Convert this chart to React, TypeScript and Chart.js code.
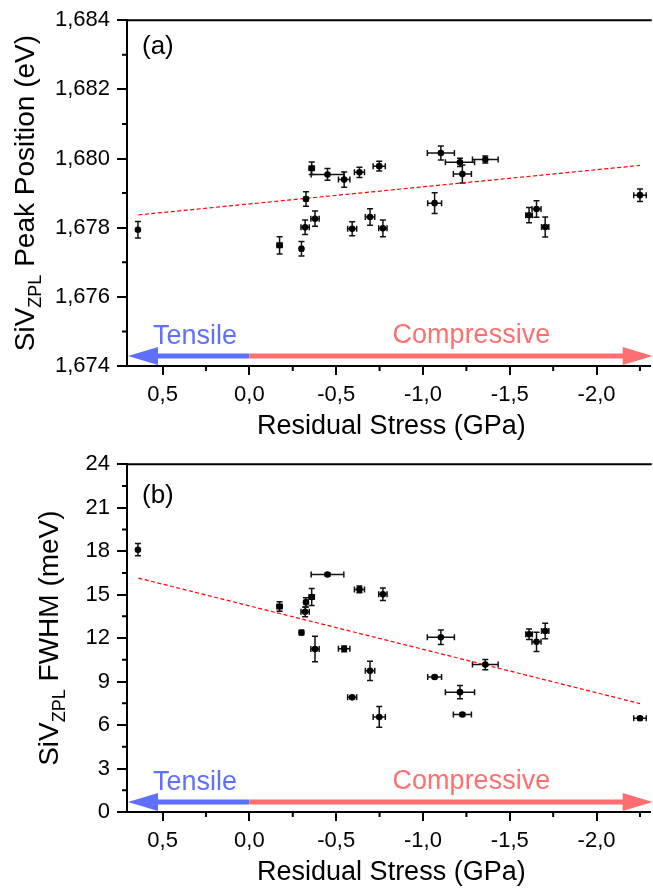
import React, { useEffect, useRef } from 'react';
import { Chart, registerables } from 'chart.js';
Chart.register(...registerables);

// ---------- data ----------
const stress = [0.642, -0.174, -0.3, -0.321, -0.326, -0.359, -0.378, -0.45, -0.546, -0.592, -0.634, -0.695, -0.748, -0.769, -1.067, -1.103, -1.213, -1.227, -1.359, -1.611, -1.654, -1.704, -2.25];
const stressErr = [0, 0.015, 0.01, 0.024, 0.01, 0.015, 0.024, 0.094, 0.033, 0.026, 0.029, 0.027, 0.035, 0.024, 0.04, 0.078, 0.084, 0.052, 0.074, 0.019, 0.026, 0.021, 0.036];
const peakPos = [1.67794, 1.67749, 1.67739, 1.67801, 1.67883, 1.67972, 1.67826, 1.67954, 1.67939, 1.67797, 1.6796, 1.67831, 1.67978, 1.67798, 1.67871, 1.68016, 1.67989, 1.67955, 1.67997, 1.67836, 1.67854, 1.67802, 1.67894];
const peakPosErr = [0.00024, 0.00025, 0.00021, 0.00021, 0.00021, 0.00018, 0.00022, 0.00017, 0.00022, 0.0002, 0.00015, 0.00024, 0.00014, 0.00024, 0.0003, 0.0002, 0.00012, 0.00026, 0.0001, 0.00022, 0.00024, 0.00029, 0.00018];
const fwhm = [18.1, 14.18, 12.38, 13.81, 14.47, 14.84, 11.24, 16.39, 11.26, 7.91, 15.36, 9.74, 6.56, 15.02, 9.32, 12.06, 8.27, 6.73, 10.17, 12.27, 11.74, 12.49, 6.47];
const fwhmErr = [0.42, 0.32, 0.15, 0.33, 0.32, 0.59, 0.88, 0.1, 0.2, 0.1, 0.23, 0.66, 0.72, 0.43, 0.1, 0.5, 0.46, 0.1, 0.36, 0.36, 0.66, 0.54, 0.1];

const fitStress = [0.639, -2.25];
const fitPeak = [1.67837, 1.6798];
const fitFwhm = [16.14, 7.48];

const xTicks = [-2, -1.5, -1, -0.5, 0, 0.5];
const xMinorTicks = [-2.25, -1.75, -1.25, -0.75, -0.25, 0.25];
const peakTicks = [1.674, 1.676, 1.678, 1.68, 1.682, 1.684];
const peakMinorTicks = [1.675, 1.677, 1.679, 1.681, 1.683];
const fwhmTicks = [0, 3, 6, 9, 12, 15, 18, 21, 24];
const fwhmMinorTicks = [1.5, 4.5, 7.5, 10.5, 13.5, 16.5, 19.5, 22.5];

const xTitle = 'Residual Stress (GPa)';
const tensileLabel = 'Tensile';
const compressiveLabel = 'Compressive';
// annotation anchor values (GPa): left edge of the labels and arrow split
const tensileAt = 0.555;
const compressiveAt = -0.825;
const arrowSplitAt = 0;

const FONT = '"Liberation Sans", Arial, sans-serif';
const BLUE = '#5f6fff';
const RED = '#ff6f6f';

type Spec = {
  ys: number[];
  yErr: number[];
  fit: number[];
  yMin: number;
  yMax: number;
  yTicks: number[];
  yMinor: number[];
  yFmt: (v: number) => string;
  panel: string;
  panelDy: number;
  yTitleRest: string;
  yTitleX: number;
  xAxisH: number;
  top: number;
};

const fmtX = (v: number) => (Math.abs(v) < 1e-9 ? '0,0' : v.toFixed(1).replace('.', ','));

function makePlugin(spec: Spec) {
  return {
    id: 'decor' + spec.panel,
    beforeDatasetsDraw(chart: any) {
      const { ctx } = chart;
      const xs = chart.scales.x;
      const ysc = chart.scales.y;
      ctx.save();
      ctx.strokeStyle = '#111';
      ctx.lineWidth = 1.5;
      const cap = 3;
      for (let i = 0; i < stress.length; i++) {
        const px = xs.getPixelForValue(stress[i]);
        const py = ysc.getPixelForValue(spec.ys[i]);
        if (spec.yErr[i] > 0) {
          const y1 = ysc.getPixelForValue(spec.ys[i] + spec.yErr[i]);
          const y2 = ysc.getPixelForValue(spec.ys[i] - spec.yErr[i]);
          ctx.beginPath();
          ctx.moveTo(px, y1); ctx.lineTo(px, y2);
          ctx.moveTo(px - cap, y1); ctx.lineTo(px + cap, y1);
          ctx.moveTo(px - cap, y2); ctx.lineTo(px + cap, y2);
          ctx.stroke();
        }
        if (stressErr[i] > 0) {
          const x1 = xs.getPixelForValue(stress[i] + stressErr[i]);
          const x2 = xs.getPixelForValue(stress[i] - stressErr[i]);
          ctx.beginPath();
          ctx.moveTo(x1, py); ctx.lineTo(x2, py);
          ctx.moveTo(x1, py - cap); ctx.lineTo(x1, py + cap);
          ctx.moveTo(x2, py - cap); ctx.lineTo(x2, py + cap);
          ctx.stroke();
        }
      }
      ctx.restore();
    },
    afterDraw(chart: any) {
      const { ctx, chartArea } = chart;
      const xs = chart.scales.x;
      const ysc = chart.scales.y;
      const { left, right, top, bottom } = chartArea;
      ctx.save();
      // top frame line
      ctx.strokeStyle = '#000';
      ctx.lineWidth = 2;
      ctx.beginPath();
      ctx.moveTo(left - 1, top);
      ctx.lineTo(right + 2, top);
      ctx.stroke();
      // minor ticks
      ctx.beginPath();
      for (const v of xMinorTicks) {
        const p = xs.getPixelForValue(v);
        ctx.moveTo(p, bottom);
        ctx.lineTo(p, bottom + 5);
      }
      for (const v of spec.yMinor) {
        const p = ysc.getPixelForValue(v);
        ctx.moveTo(left, p);
        ctx.lineTo(left - 5, p);
      }
      ctx.stroke();

      // arrows
      const ay = bottom - 10;
      const split = xs.getPixelForValue(arrowSplitAt);
      const headL = 30;
      const headH = 9;
      ctx.lineWidth = 5;
      ctx.strokeStyle = BLUE;
      ctx.fillStyle = BLUE;
      ctx.beginPath();
      ctx.moveTo(split, ay);
      ctx.lineTo(left + headL - 2, ay);
      ctx.stroke();
      ctx.beginPath();
      ctx.moveTo(left + 1, ay);
      ctx.lineTo(left + 1 + headL, ay - headH);
      ctx.lineTo(left + 1 + headL, ay + headH);
      ctx.closePath();
      ctx.fill();
      ctx.strokeStyle = RED;
      ctx.fillStyle = RED;
      ctx.beginPath();
      ctx.moveTo(split, ay);
      ctx.lineTo(right - headL + 4, ay);
      ctx.stroke();
      ctx.beginPath();
      ctx.moveTo(right + 3, ay);
      ctx.lineTo(right + 3 - headL, ay - headH);
      ctx.lineTo(right + 3 - headL, ay + headH);
      ctx.closePath();
      ctx.fill();

      // arrow labels
      ctx.font = `27px ${FONT}`;
      ctx.textAlign = 'left';
      ctx.textBaseline = 'alphabetic';
      ctx.fillStyle = BLUE;
      ctx.fillText(tensileLabel, xs.getPixelForValue(tensileAt), bottom - 22);
      ctx.fillStyle = RED;
      ctx.fillText(compressiveLabel, xs.getPixelForValue(compressiveAt), bottom - 23);

      // panel label
      ctx.fillStyle = '#000';
      ctx.font = `26px ${FONT}`;
      ctx.fillText(spec.panel, left + 15, top + spec.panelDy);

      // x title
      ctx.font = `27px ${FONT}`;
      ctx.textAlign = 'center';
      ctx.fillText(xTitle, (left + right) / 2 + 3, bottom + 68);

      // y title with subscript
      const big = `28px ${FONT}`;
      const small = `18px ${FONT}`;
      ctx.font = big;
      const w1 = ctx.measureText('SiV').width;
      const w3 = ctx.measureText(spec.yTitleRest).width;
      ctx.font = small;
      const w2 = ctx.measureText('ZPL').width;
      const total = w1 + w2 + w3;
      ctx.translate(spec.yTitleX, (top + bottom) / 2);
      ctx.rotate(-Math.PI / 2);
      ctx.textAlign = 'left';
      let x0 = -total / 2;
      ctx.font = big;
      ctx.fillText('SiV', x0, 0);
      ctx.font = small;
      ctx.fillText('ZPL', x0 + w1, 7);
      ctx.font = big;
      ctx.fillText(spec.yTitleRest, x0 + w1 + w2, 0);
      ctx.restore();
    },
  };
}

function buildChart(canvas: HTMLCanvasElement, spec: Spec) {
  return new Chart(canvas, {
    type: 'scatter',
    data: {
      datasets: [
        {
          data: stress.map((x, i) => ({ x, y: spec.ys[i] })),
          pointRadius: 3.3,
          pointHoverRadius: 3.3,
          backgroundColor: '#000',
          borderWidth: 0,
          pointStyle: 'circle',
        },
        {
          data: fitStress.map((x, i) => ({ x, y: spec.fit[i] })),
          showLine: true,
          pointRadius: 0,
          borderColor: '#ff0000',
          borderWidth: 1.2,
          borderDash: [4, 2.5],
        },
      ],
    },
    options: {
      responsive: false,
      animation: false,
      devicePixelRatio: 1,
      layout: { padding: { top: spec.top, left: 0, right: 0, bottom: 0 } },
      plugins: { legend: { display: false }, tooltip: { enabled: false } },
      events: [],
      scales: {
        x: {
          type: 'linear',
          reverse: true,
          min: -2.306,
          max: 0.705,
          afterBuildTicks: (s: any) => {
            s.ticks = xTicks.map((v) => ({ value: v }));
          },
          afterFit: (s: any) => {
            s.height = spec.xAxisH;
          },
          ticks: {
            callback: (v: any) => fmtX(Number(v)),
            font: { size: 22, family: FONT },
            color: '#000',
            padding: 7,
            maxRotation: 0,
            autoSkip: false,
          },
          grid: { display: true, drawOnChartArea: false, drawTicks: true, tickLength: 9, lineWidth: 2, color: '#000' },
          border: { display: true, color: '#000', width: 2 },
        },
        y: {
          type: 'linear',
          min: spec.yMin,
          max: spec.yMax,
          afterBuildTicks: (s: any) => {
            s.ticks = spec.yTicks.map((v) => ({ value: v }));
          },
          afterFit: (s: any) => {
            s.width = 127;
          },
          ticks: {
            callback: (v: any) => spec.yFmt(Number(v)),
            font: { size: 22, family: FONT },
            color: '#000',
            padding: 7,
            autoSkip: false,
          },
          grid: { display: true, drawOnChartArea: false, drawTicks: true, tickLength: 10, lineWidth: 2, color: '#000' },
          border: { display: true, color: '#000', width: 2 },
        },
      },
    },
    plugins: [makePlugin(spec)],
  } as any);
}

const specA: Spec = {
  ys: peakPos,
  yErr: peakPosErr,
  fit: fitPeak,
  yMin: 1.674,
  yMax: 1.684,
  yTicks: peakTicks,
  yMinor: peakMinorTicks,
  yFmt: (v) => v.toFixed(3).replace('.', ','),
  panel: '(a)',
  panelDy: 34,
  yTitleRest: ' Peak Position (eV)',
  yTitleX: 34,
  xAxisH: 78,
  top: 17,
};

const specB: Spec = {
  ys: fwhm,
  yErr: fwhmErr,
  fit: fitFwhm,
  yMin: 0,
  yMax: 24,
  yTicks: fwhmTicks,
  yMinor: fwhmMinorTicks,
  yFmt: (v) => String(Math.round(v)),
  panel: '(b)',
  panelDy: 39,
  yTitleRest: ' FWHM (meV)',
  yTitleX: 58,
  xAxisH: 76,
  top: 17,
};

export default function App() {
  const refA = useRef<HTMLCanvasElement>(null);
  const refB = useRef<HTMLCanvasElement>(null);
  useEffect(() => {
    const a = buildChart(refA.current!, specA);
    const b = buildChart(refB.current!, specB);
    return () => {
      a.destroy();
      b.destroy();
    };
  }, []);
  return (
    <div style={{ position: 'absolute', left: 0, top: 0, width: 653, height: 888, background: '#fff', overflow: 'hidden' }}>
      <canvas ref={refA} width={653} height={444} style={{ position: 'absolute', left: 0, top: 0, display: 'block' }} />
      <canvas ref={refB} width={653} height={444} style={{ position: 'absolute', left: 0, top: 444, display: 'block' }} />
    </div>
  );
}
